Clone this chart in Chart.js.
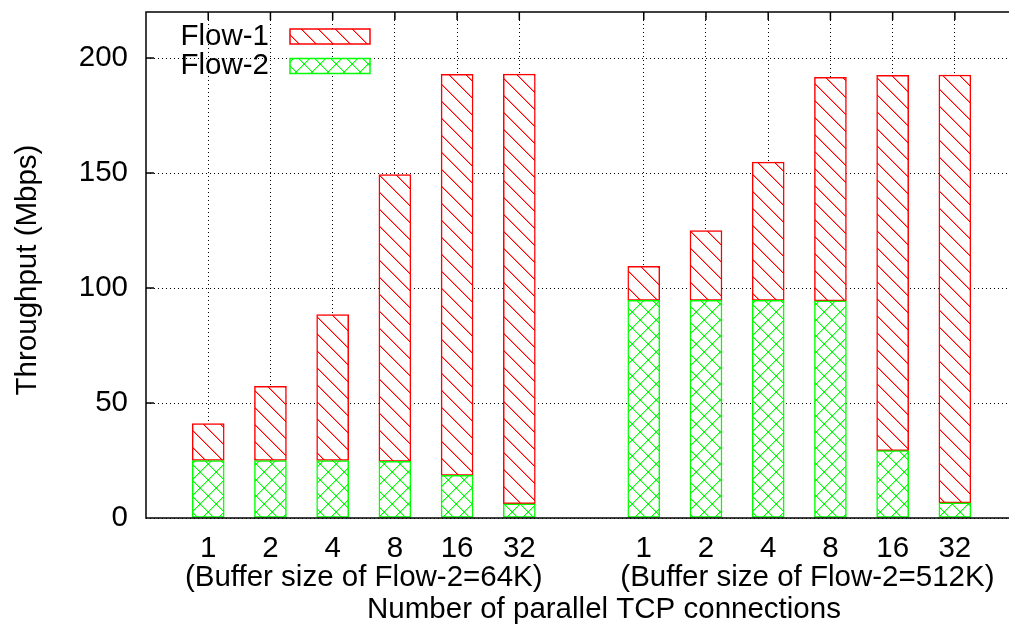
<!DOCTYPE html>
<html>
<head>
<meta charset="utf-8">
<script src="https://cdn.jsdelivr.net/npm/chart.js@4.4.1/dist/chart.umd.min.js"></script>
<style>
  html, body { margin: 0; padding: 0; background: #fff; }
</style>
</head>
<body>
<canvas id="chart" width="1009" height="628"></canvas>
<script>
// values (Mbps)
const connections = ['1', '2', '4', '8', '16', '32'];
const groupLabels = ['(Buffer size of Flow-2=64K)', '(Buffer size of Flow-2=512K)'];
const flow2 = [25, 25, 25, 24.6, 18.5, 6.2, 94.6, 94.6, 94.6, 94.4, 29.3, 6.6];
const flow1 = [16, 32.2, 63.4, 124.7, 174.4, 186.8, 14.8, 30.4, 60.1, 97.2, 163.2, 186];
const yTicks = [0, 50, 100, 150, 200];

// slot index on the x axis: group 1 uses 0..5, group 2 uses 7..12 (6 is the gap)
const slots = [];
groupLabels.forEach((g, gi) => connections.forEach((c, ci) => slots.push(gi * 7 + ci)));

const FONT = '"Liberation Sans", Arial, Helvetica, sans-serif';
const FSIZE = 29.5;

// crisp hatching on white, like gnuplot's fill patterns
function makePattern(color, soft, cross) {
  const s = cross ? 16 : 17;
  const c = document.createElement('canvas');
  c.width = s; c.height = s;
  const g = c.getContext('2d');
  g.fillStyle = '#fff';
  g.fillRect(0, 0, s, s);
  for (let i = 0; i < s; i++) {
    g.fillStyle = soft;
    g.fillRect((i + 1) % s, i, 1, 1);
    if (cross) g.fillRect((i + 1) % s, s - 1 - i, 1, 1);
  }
  g.fillStyle = color;
  for (let i = 0; i < s; i++) {
    g.fillRect(i, i, 1, 1);
    if (cross) g.fillRect(i, s - 1 - i, 1, 1);
  }
  return g.createPattern(c, 'repeat');
}

const redHatch = makePattern('#ff0000', '#ff9090', false);
const greenCross = makePattern('#00ff00', '#a0ffa0', true);

const frame = {
  id: 'frame',
  afterDatasetsDraw(chart) {
    const { ctx, chartArea: a, scales: { x, y } } = chart;
    ctx.save();
    ctx.strokeStyle = '#000';
    ctx.lineWidth = 1.5;
    ctx.beginPath();
    ctx.moveTo(chart.width, a.top);
    ctx.lineTo(a.left, a.top);
    ctx.lineTo(a.left, a.bottom);
    ctx.lineTo(chart.width, a.bottom);
    yTicks.forEach(v => {
      const py = y.getPixelForValue(v);
      ctx.moveTo(a.left, py); ctx.lineTo(a.left + 8, py);
    });
    slots.forEach(v => {
      const px = x.getPixelForValue(v);
      ctx.moveTo(px, a.top); ctx.lineTo(px, a.top + 8);
    });
    ctx.stroke();

    ctx.fillStyle = '#000';
    ctx.font = FSIZE + 'px ' + FONT;
    ctx.textAlign = 'center';
    ctx.textBaseline = 'middle';
    // group captions and axis titles
    ctx.fillText(groupLabels[0], x.getPixelForValue(2.5), 578);
    ctx.fillText(groupLabels[1], x.getPixelForValue(9.63), 578);
    ctx.fillText('Number of parallel TCP connections', 604, 610);
    ctx.save();
    ctx.translate(27.5, 270);
    ctx.rotate(-Math.PI / 2);
    ctx.fillText('Throughput (Mbps)', 0, 0);
    ctx.restore();

    // legend (top left, inside the plot)
    const items = [chart.data.datasets[1], chart.data.datasets[0]];
    items.forEach((ds, i) => {
      const cy = 36.5 + i * 29.5;
      ctx.textAlign = 'right';
      ctx.fillStyle = '#000';
      ctx.fillText(ds.label, 269, cy);
      ctx.fillStyle = ds.backgroundColor;
      ctx.fillRect(290, cy - 7.5, 80, 15);
      ctx.strokeStyle = ds.borderColor;
      ctx.lineWidth = 1.5;
      ctx.strokeRect(290, cy - 7.5, 80, 15);
    });
    ctx.restore();
  }
};

new Chart(document.getElementById('chart'), {
  type: 'bar',
  data: {
    datasets: [
      {
        label: 'Flow-2',
        data: slots.map((s, i) => ({ x: s, y: flow2[i] })),
        backgroundColor: greenCross,
        borderColor: '#00ff00',
        borderWidth: 1.5,
        borderSkipped: false,
        barThickness: 32
      },
      {
        label: 'Flow-1',
        data: slots.map((s, i) => ({ x: s, y: flow1[i] })),
        backgroundColor: redHatch,
        borderColor: '#ff0000',
        borderWidth: 1.5,
        borderSkipped: false,
        barThickness: 32
      }
    ]
  },
  options: {
    responsive: false,
    animation: false,
    devicePixelRatio: 1,
    layout: { padding: { top: 12, right: 0, left: 0, bottom: 0 } },
    plugins: { legend: { display: false }, tooltip: { enabled: false } },
    scales: {
      x: {
        type: 'linear',
        min: -1,
        max: 12.87,
        offset: false,
        stacked: true,
        afterBuildTicks: s => { s.ticks = slots.map(v => ({ value: v })); },
        afterFit: s => {
          s.height = 110;
          s.paddingLeft = 0; s.paddingRight = 0;
        },
        grid: { offset: false, color: '#000', lineWidth: 1, drawTicks: false },
        border: { display: false, dash: [1, 3] },
        ticks: {
          autoSkip: false,
          maxRotation: 0,
          padding: 13,
          color: '#000',
          font: { family: FONT, size: FSIZE },
          callback: v => connections[v % 7]
        }
      },
      y: {
        min: 0,
        max: 220,
        stacked: true,
        afterBuildTicks: s => { s.ticks = yTicks.map(v => ({ value: v })); },
        afterFit: s => {
          s.width = 146;
          s.paddingTop = 0; s.paddingBottom = 0;
        },
        grid: { color: '#000', lineWidth: 1, drawTicks: false },
        border: { display: false, dash: [1, 3] },
        ticks: {
          padding: 18,
          color: '#000',
          font: { family: FONT, size: FSIZE }
        }
      }
    }
  },
  plugins: [frame]
});
</script>
</body>
</html>
